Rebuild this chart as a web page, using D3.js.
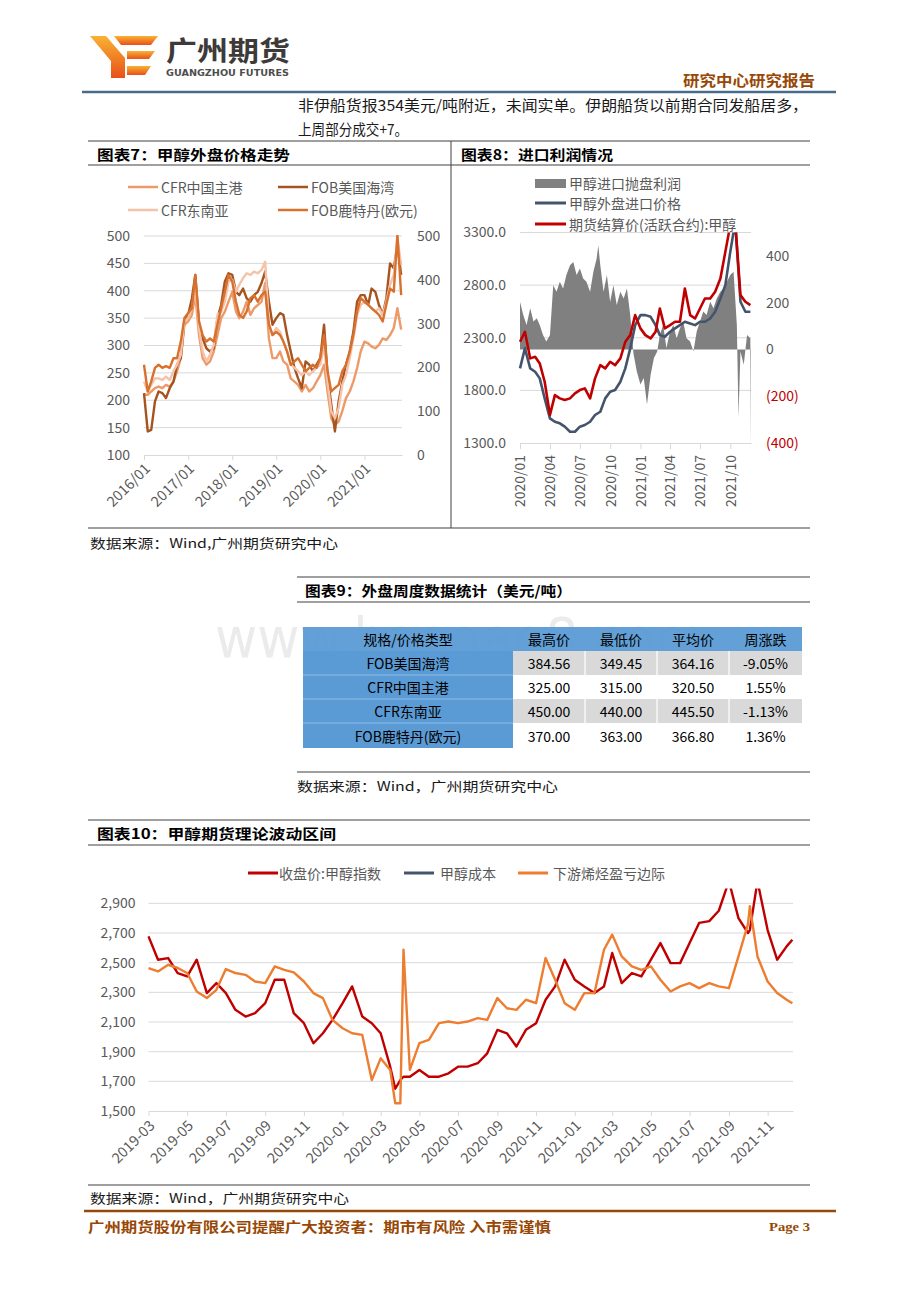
<!DOCTYPE html>
<html><head><meta charset="utf-8">
<script src="https://cdn.jsdelivr.net/npm/d3@7"></script>
<style>html,body{margin:0;padding:0;background:#fff;}svg{display:block;}</style>
</head><body>
<script>
// ---------------- DATA ----------------
// Chart 7
const c7Dates = ["2016-01","2016-02","2016-03","2016-04","2016-05","2016-06","2016-07","2016-08","2016-09","2016-10","2016-11","2016-12",
"2017-01","2017-02","2017-03","2017-04","2017-05","2017-06","2017-07","2017-08","2017-09","2017-10","2017-11","2017-12",
"2018-01","2018-02","2018-03","2018-04","2018-05","2018-06","2018-07","2018-08","2018-09","2018-10","2018-11","2018-12",
"2019-01","2019-02","2019-03","2019-04","2019-05","2019-06","2019-07","2019-08","2019-09","2019-10","2019-11","2019-12",
"2020-01","2020-02","2020-03","2020-04","2020-05","2020-06","2020-07","2020-08","2020-09","2020-10","2020-11","2020-12",
"2021-01","2021-02","2021-03","2021-04","2021-05","2021-06","2021-07","2021-08","2021-09","2021-10","2021-11"];
const c7CfrChina = [210,210,216,222,225,222,228,225,234,253,277,338,
 344,356,392,319,277,265,271,289,319,350,362,380,
 398,362,350,362,380,356,368,374,380,414,313,277,
 277,289,271,265,240,234,228,216,228,216,222,234,
 246,265,216,167,155,161,180,204,216,234,259,289,
 307,304,298,295,301,313,310,319,332,368,329];
const c7FobUS = [213,143,146,198,216,213,204,222,234,265,277,344,
 356,386,429,338,313,295,289,295,350,374,417,432,
 429,398,392,404,386,380,392,398,414,435,380,338,
 350,359,356,319,289,259,240,222,271,265,253,265,
 277,338,246,192,143,198,234,265,289,325,380,392,
 392,374,404,398,374,356,386,450,441,484,429];
const c7CfrSEA = [234,216,228,240,240,237,243,237,253,265,283,344,
 350,368,405,332,289,271,283,301,356,362,380,417,
 420,398,411,423,432,429,435,432,438,453,338,319,
 332,325,307,289,265,259,253,246,253,246,253,259,
 265,301,234,180,167,186,228,246,277,313,356,374,
 380,374,368,362,368,356,380,411,429,496,447];
const c7FobRdmEUR = [206,145,168,199,206,199,203,199,221,221,259,313,
 324,335,411,305,274,259,266,259,298,335,373,411,
 396,350,320,313,328,358,365,350,365,373,298,274,
 281,274,259,236,206,214,221,206,191,199,206,199,
 221,274,191,145,153,160,191,206,236,274,328,358,
 350,343,335,328,320,305,343,380,373,503,365];
const c7LeftTicks = [100,150,200,250,300,350,400,450,500];
const c7RightTicks = [0,100,200,300,400,500];
const c7XTicks = ["2016-01","2017-01","2018-01","2019-01","2020-01","2021-01"];
const c7Names = ["CFR中国主港","FOB美国海湾","CFR东南亚","FOB鹿特丹(欧元)"];

// Chart 8
const c8Dates = ["2020-01-01","2020-01-16","2020-02-01","2020-02-16","2020-03-01","2020-03-16","2020-04-01","2020-04-16","2020-05-01","2020-05-16","2020-06-01","2020-06-16",
"2020-07-01","2020-07-16","2020-08-01","2020-08-16","2020-09-01","2020-09-16","2020-10-01","2020-10-16","2020-11-01","2020-11-16","2020-12-01","2020-12-16",
"2021-01-01","2021-01-16","2021-02-01","2021-02-16","2021-03-01","2021-03-16","2021-04-01","2021-04-16","2021-05-01","2021-05-16","2021-06-01","2021-06-16",
"2021-07-01","2021-07-16","2021-08-01","2021-08-16","2021-09-01","2021-09-16","2021-10-01","2021-10-16","2021-11-01","2021-11-16","2021-12-01"];
const c8Futures = [2262,2357,2104,2119,2056,1882,1566,1755,1724,1708,1724,1771,
 1803,1819,1724,1914,2040,2009,2072,2040,2104,2262,2325,2515,
 2389,2325,2294,2357,2578,2389,2420,2452,2452,2768,2515,2483,
 2578,2673,2673,2737,2863,3116,3370,3400,2705,2642,2610];
const c8ImportPrice = [2009,2199,2009,1977,1914,1724,1534,1502,1487,1455,1407,1407,
 1455,1471,1502,1566,1597,1724,1787,1803,1882,2009,2199,2420,
 2515,2515,2499,2420,2325,2310,2357,2389,2420,2452,2436,2420,
 2452,2452,2483,2547,2673,2800,3116,3400,2642,2547,2547];
const c8ProfitDates = ["2020-01-01","2020-01-11","2020-01-21","2020-02-01","2020-02-11","2020-02-21","2020-03-01","2020-03-11","2020-03-21",
"2020-04-01","2020-04-11","2020-04-21","2020-05-01","2020-05-11","2020-05-21","2020-06-01","2020-06-11","2020-06-21",
"2020-07-01","2020-07-11","2020-07-21","2020-08-01","2020-08-11","2020-08-21","2020-08-26","2020-09-01","2020-09-11","2020-09-21",
"2020-10-01","2020-10-11","2020-10-21","2020-11-01","2020-11-11","2020-11-21","2020-12-01","2020-12-11","2020-12-21",
"2021-01-01","2021-01-11","2021-01-21","2021-02-01","2021-02-11","2021-02-21","2021-03-01","2021-03-11","2021-03-21",
"2021-04-01","2021-04-11","2021-04-21","2021-05-01","2021-05-11","2021-05-21","2021-06-01","2021-06-11","2021-06-21",
"2021-07-01","2021-07-11","2021-07-21","2021-08-01","2021-08-11","2021-08-21","2021-09-01","2021-09-11","2021-09-21",
"2021-10-01","2021-10-11","2021-10-21","2021-10-26","2021-11-01","2021-11-11","2021-11-21","2021-12-01","2021-12-03"];
const c8Profit = [204,147,105,176,119,133,105,62,34,
 62,275,247,289,261,318,360,374,318,
 346,303,289,247,332,389,445,360,247,318,
 204,275,190,247,218,261,147,-20,-94,
 -150,-122,-235,-108,-37,-9,62,105,6,
 77,105,48,91,119,48,34,-9,77,
 119,162,147,204,176,218,247,261,289,
 318,332,105,-292,-9,-65,62,48,-420];
const c8LeftTicks = [1300,1800,2300,2800,3300];
const c8RightTicks = [-400,-200,0,200,400];
const c8XTicks = ["2020-01","2020-04","2020-07","2020-10","2021-01","2021-04","2021-07","2021-10"];
const c8Names = ["甲醇进口抛盘利润","甲醇外盘进口价格","期货结算价(活跃合约):甲醇"];

// Table 9
const t9Header = ["规格/价格类型","最高价","最低价","平均价","周涨跌"];
const t9Names = ["FOB美国海湾","CFR中国主港","CFR东南亚","FOB鹿特丹(欧元)"];
const t9High = ["384.56","325.00","450.00","370.00"];
const t9Low = ["349.45","315.00","440.00","363.00"];
const t9Avg = ["364.16","320.50","445.50","366.80"];
const t9Chg = ["-9.05%","1.55%","-1.13%","1.36%"];

// Chart 10
const c10Dates = ["2019-03-01","2019-03-16","2019-04-01","2019-04-16","2019-05-01","2019-05-16","2019-06-01","2019-06-16","2019-07-01","2019-07-16","2019-08-01","2019-08-16","2019-09-01","2019-09-16","2019-10-01","2019-10-16","2019-11-01","2019-11-16","2019-12-01","2019-12-16",
"2020-01-01","2020-01-16","2020-02-01","2020-02-16","2020-03-01","2020-03-16","2020-03-24","2020-04-01","2020-04-06","2020-04-16","2020-05-01","2020-05-16","2020-06-01","2020-06-16","2020-07-01","2020-07-16","2020-08-01","2020-08-16","2020-09-01","2020-09-16","2020-10-01","2020-10-16","2020-11-01","2020-11-16","2020-12-01","2020-12-16",
"2021-01-01","2021-01-16","2021-02-01","2021-02-16","2021-03-01","2021-03-16","2021-04-01","2021-04-16","2021-05-01","2021-05-16","2021-06-01","2021-06-16","2021-07-01","2021-07-16","2021-08-01","2021-08-16","2021-09-01","2021-09-16","2021-10-01","2021-10-04","2021-10-16","2021-11-01","2021-11-16","2021-12-01","2021-12-10"];
const c10Close = [2677,2520,2531,2430,2407,2520,2295,2362,2295,2182,2137,2160,2227,2385,2385,2160,2092,1957,2024,2114,
 2227,2340,2137,2092,2024,1799,1650,1709,1731,1731,1777,1731,1731,1754,1799,1799,1822,1889,2047,2024,1935,2047,2092,2250,2340,2520,
 2385,2340,2295,2340,2565,2362,2430,2407,2520,2632,2497,2497,2632,2768,2780,2850,3050,2800,2700,2720,3050,2720,2520,2610,2655];
const c10Cost = [];
const c10Olefin = [2464,2441,2486,2464,2430,2306,2261,2317,2457,2430,2418,2373,2362,2475,2452,2434,2373,2295,2261,2114,
 2058,2024,2013,1709,1855,1777,1552,1552,2587,1777,1957,1980,2092,2103,2092,2103,2126,2114,2261,2193,2182,2250,2227,2531,2385,2227,
 2182,2295,2295,2587,2689,2542,2475,2452,2475,2385,2306,2340,2362,2328,2362,2340,2328,2542,2760,2880,2542,2373,2295,2250,2227];
const c10YTicks = [1500,1700,1900,2100,2300,2500,2700,2900];
const c10XTicks = ["2019-03","2019-05","2019-07","2019-09","2019-11","2020-01","2020-03","2020-05","2020-07","2020-09","2020-11","2021-01","2021-03","2021-05","2021-07","2021-09","2021-11"];
const c10Names = ["收盘价:甲醇指数","甲醇成本","下游烯烃盈亏边际"];

// ---------------- DRAW ----------------
const SANS = "'Noto Sans CJK SC','Noto Sans',sans-serif";
const SERIF = "'Liberation Serif','Noto Sans CJK SC',serif";
const GREY = "#595959", GRID = "#d9d9d9";
const pYM = d3.timeParse("%Y-%m"), pYMD = d3.timeParse("%Y-%m-%d");
const svg = d3.select("body").append("svg").attr("width",920).attr("height",1302);
const defs = svg.append("defs");

function txt(g,x,y,s,o={}){
  const t=g.append("text").attr("x",x).attr("y",y).text(s)
    .attr("font-family",o.family||SANS).attr("font-size",o.size||14)
    .attr("fill",o.fill||"#000").attr("font-weight",o.weight||"normal")
    .attr("text-anchor",o.anchor||"start").attr("dominant-baseline","central");
  if(o.len) t.attr("textLength",o.len).attr("lengthAdjust","spacingAndGlyphs");
  return t;
}
function hl(x1,x2,y,c,w){svg.append("line").attr("x1",x1).attr("x2",x2).attr("y1",y).attr("y2",y).attr("stroke",c).attr("stroke-width",w);}
function vl(x,y1,y2,c,w){svg.append("line").attr("x1",x).attr("x2",x).attr("y1",y1).attr("y2",y2).attr("stroke",c).attr("stroke-width",w);}
function clip(id,x,y,w,h){defs.append("clipPath").attr("id",id).append("rect").attr("x",x).attr("y",y).attr("width",w).attr("height",h);}

// header logo
const grad = defs.append("linearGradient").attr("id","lg").attr("x1",0).attr("y1",0).attr("x2",0).attr("y2",1);
grad.append("stop").attr("offset","0").attr("stop-color","#f9b233");
grad.append("stop").attr("offset","1").attr("stop-color","#e8501a");
const logo = svg.append("g").attr("fill","url(#lg)");
[[[90,36],[106,36],[125,58],[125,78],[111,78],[111,61]],
 [[114,36],[158,36],[151,45],[121,45]],
 [[127,51],[155,51],[149,59],[127,59]],
 [[127,66],[151,66],[145,75],[127,75]]].forEach(p=>logo.append("polygon").attr("points",p.map(d=>d.join(",")).join(" ")));
txt(svg,166,49,"广州期货",{size:27,weight:"bold",fill:"#3e3a39",len:124});
txt(svg,166,72,"GUANGZHOU FUTURES",{size:9.5,weight:"bold",fill:"#4d4d4d",len:123,family:"'DejaVu Sans',sans-serif"});
txt(svg,683,79,"研究中心研究报告",{size:15,weight:"bold",fill:"#984806",len:132});
hl(82,836,92,"#4a6a8a",2.5);
txt(svg,298,104,"非伊船货报354美元/吨附近，未闻实单。伊朗船货以前期合同发船居多，",{size:15,fill:"#1a1a1a",len:510});
txt(svg,298,128,"上周部分成交+7。",{size:15,fill:"#1a1a1a",len:110});

// frames for charts 7/8
hl(88,810,141,"#404040",1.2); hl(88,810,165,"#404040",1); hl(88,810,528,"#404040",1.2); vl(451,141,528,"#404040",1);
txt(svg,97,154,"图表7：甲醇外盘价格走势",{size:14,weight:"bold",len:193});
txt(svg,461,154,"图表8：进口利润情况",{size:14,weight:"bold",len:152});
txt(svg,90,542,"数据来源：Wind,广州期货研究中心",{size:13,fill:"#1a1a1a",len:248});

// ---------- Chart 7 ----------
(function(){
  const g = svg.append("g");
  const x = d3.scaleTime([new Date(2016,0,1), new Date(2021,10,8)],[144,402]);
  const yL = d3.scaleLinear([100,500],[455,236]);
  const yR = d3.scaleLinear([0,500],[455,236]);
  g.selectAll("line.grid").data(c7LeftTicks.slice(1)).join("line")
    .attr("x1",144).attr("x2",402).attr("y1",d=>yL(d)).attr("y2",d=>yL(d)).attr("stroke",GRID).attr("stroke-width",1);
  const aL = g.append("g").attr("transform","translate(144,0)").call(d3.axisLeft(yL).tickValues(c7LeftTicks).tickSize(0).tickPadding(14));
  aL.select(".domain").remove();
  aL.selectAll("text").attr("font-family",SANS).attr("font-size",14).attr("fill",GREY);
  const aR = g.append("g").attr("transform","translate(402,0)").call(d3.axisRight(yR).tickValues(c7RightTicks).tickSize(0).tickPadding(15));
  aR.select(".domain").remove();
  aR.selectAll("text").attr("font-family",SANS).attr("font-size",14).attr("fill",GREY);
  const aB = g.append("g").attr("transform","translate(0,455)")
    .call(d3.axisBottom(x).tickValues(c7XTicks.map(pYM)).tickFormat(d3.timeFormat("%Y/%m")).tickSize(5).tickSizeOuter(0));
  aB.select(".domain").attr("stroke",GRID);
  aB.selectAll(".tick line").attr("stroke",GRID);
  aB.selectAll(".tick text").attr("x",0).attr("y",0).attr("dy","0.35em").attr("transform","translate(3,11) rotate(-45)")
    .attr("text-anchor","end").attr("font-family",SANS).attr("font-size",14.5).attr("fill",GREY);
  clip("c7",140,235,266,222);
  const dates = c7Dates.map(pYM);
  const series = [
    {v:c7CfrChina, y:yL, c:"#ee9a68"},
    {v:c7FobUS, y:yL, c:"#a5541f"},
    {v:c7CfrSEA, y:yL, c:"#f5c2aa"},
    {v:c7FobRdmEUR, y:yR, c:"#d8712e"}];
  const pg = g.append("g").attr("clip-path","url(#c7)");
  series.forEach(s=>{
    const ln = d3.line().x((d,i)=>x(dates[i])).y(d=>s.y(d));
    pg.append("path").attr("d",ln(s.v)).attr("fill","none").attr("stroke",s.c).attr("stroke-width",2.4).attr("stroke-linejoin","round");
  });
  const lg = [[128,187],[278,187],[128,210],[278,210]];
  series.forEach((s,i)=>{
    g.append("line").attr("x1",lg[i][0]).attr("x2",lg[i][0]+30).attr("y1",lg[i][1]).attr("y2",lg[i][1]).attr("stroke",s.c).attr("stroke-width",2.5);
    txt(g,lg[i][0]+33,lg[i][1],c7Names[i],{size:14,fill:GREY});
  });
})();

// ---------- Chart 8 ----------
(function(){
  const g = svg.append("g");
  const x = d3.scaleTime([new Date(2020,0,1), new Date(2021,11,3)],[520,751]);
  const yL = d3.scaleLinear([1300,3300],[443,232.5]);
  const yR = d3.scaleLinear([-400,500],[443,232.5]);
  g.selectAll("line.grid").data(c8LeftTicks.slice(1)).join("line")
    .attr("x1",520).attr("x2",751).attr("y1",d=>yL(d)).attr("y2",d=>yL(d)).attr("stroke",GRID).attr("stroke-width",1);
  const aL = g.append("g").attr("transform","translate(520,0)").call(d3.axisLeft(yL).tickValues(c8LeftTicks).tickFormat(d3.format(".1f")).tickSize(0).tickPadding(14));
  aL.select(".domain").remove();
  aL.selectAll("text").attr("font-family",SANS).attr("font-size",14).attr("fill",GREY);
  const aR = g.append("g").attr("transform","translate(751,0)")
    .call(d3.axisRight(yR).tickValues(c8RightTicks).tickFormat(d=>d<0?"("+Math.abs(d)+")":String(d)).tickSize(0).tickPadding(15));
  aR.select(".domain").remove();
  aR.selectAll("text").attr("font-family",SANS).attr("font-size",14).attr("fill",d=>d<0?"#c00000":GREY);
  const aB = g.append("g").attr("transform","translate(0,443)")
    .call(d3.axisBottom(x).tickValues(c8XTicks.map(pYM)).tickFormat(d3.timeFormat("%Y/%m")).tickSize(6).tickSizeOuter(0));
  aB.select(".domain").attr("stroke",GRID);
  aB.selectAll(".tick line").attr("stroke",GRID);
  aB.selectAll(".tick text").attr("x",0).attr("y",0).attr("dy","0.35em").attr("transform","translate(0,12) rotate(-90)")
    .attr("text-anchor","end").attr("font-family",SANS).attr("font-size",14).attr("fill",GREY);
  clip("c8",518,232.5,236,211);
  const pg = g.append("g").attr("clip-path","url(#c8)");
  const pd = c8ProfitDates.map(pYMD);
  const ar = d3.area().x((d,i)=>x(pd[i])).y0(yR(0)).y1(d=>yR(d));
  pg.append("path").attr("d",ar(c8Profit)).attr("fill","#808080");
  const dd = c8Dates.map(pYMD);
  const ln = d3.line().x((d,i)=>x(dd[i])).y(d=>yL(d));
  pg.append("path").attr("d",ln(c8ImportPrice)).attr("fill","none").attr("stroke","#44546a").attr("stroke-width",2.6).attr("stroke-linejoin","round");
  pg.append("path").attr("d",ln(c8Futures)).attr("fill","none").attr("stroke","#c00000").attr("stroke-width",2.6).attr("stroke-linejoin","round");
  g.append("rect").attr("x",535).attr("y",179).attr("width",31).attr("height",9).attr("fill","#808080");
  g.append("line").attr("x1",535).attr("x2",566).attr("y1",203).attr("y2",203).attr("stroke","#44546a").attr("stroke-width",3);
  g.append("line").attr("x1",535).attr("x2",566).attr("y1",224).attr("y2",224).attr("stroke","#c00000").attr("stroke-width",3);
  txt(g,569,183,c8Names[0],{size:14,fill:GREY});
  txt(g,569,203,c8Names[1],{size:14,fill:GREY});
  txt(g,569,224,c8Names[2],{size:14,fill:GREY});
})();

// ---------- Table 9 ----------
(function(){
  hl(297,810,577,"#404040",1.2); hl(297,810,602,"#404040",1); hl(297,810,772,"#404040",1.2);
  txt(svg,305,590,"图表9：外盘周度数据统计（美元/吨）",{size:14,weight:"bold",len:267});
  txt(svg,297,785,"数据来源：Wind，广州期货研究中心",{size:13,fill:"#1a1a1a",len:261});
  // watermark sits behind the table
  txt(svg,215,637,"www.baogao8.com",{size:56,fill:"#d8d8d8",len:490,family:"'DejaVu Sans',sans-serif"}).attr("opacity",0.5);
  const g = svg.append("g");
  const colX = [303,513,585,657,729,802];
  const rowY = [627,651,675,699,723,748];
  const BLUE = "#5b9bd5";
  g.append("rect").attr("x",303).attr("y",627).attr("width",499).attr("height",24).attr("fill",BLUE).attr("opacity",0.95);
  g.append("rect").attr("x",303).attr("y",651).attr("width",210).attr("height",97).attr("fill",BLUE);
  [0,2].forEach(r=>g.append("rect").attr("x",513).attr("y",rowY[r+1]).attr("width",289).attr("height",24).attr("fill","#d9d9d9"));
  [2,3,4].forEach(c=>g.append("line").attr("x1",colX[c]).attr("x2",colX[c]).attr("y1",651).attr("y2",748).attr("stroke","#fff").attr("stroke-width",1.2));
  [2,3,4].forEach(r=>g.append("line").attr("x1",303).attr("x2",513).attr("y1",rowY[r]).attr("y2",rowY[r]).attr("stroke","#8fbce6").attr("stroke-width",1));
  const cx = c=>(colX[c]+colX[c+1])/2;
  t9Header.forEach((h,c)=>txt(g,cx(c),639,h,{size:14,anchor:"middle"}));
  t9Names.forEach((n,r)=>{
    const y=(rowY[r+1]+rowY[r+2])/2;
    txt(g,cx(0),y,n,{size:14,anchor:"middle"});
    txt(g,cx(1),y,t9High[r],{size:14,anchor:"middle"});
    txt(g,cx(2),y,t9Low[r],{size:14,anchor:"middle"});
    txt(g,cx(3),y,t9Avg[r],{size:14,anchor:"middle"});
    txt(g,cx(4),y,t9Chg[r],{size:14,anchor:"middle"});
  });
})();

// ---------- Chart 10 ----------
(function(){
  hl(88,810,820,"#404040",1.2); hl(88,810,845,"#404040",1); hl(88,810,1185,"#404040",1.2);
  txt(svg,97,833,"图表10：甲醇期货理论波动区间",{size:14,weight:"bold",len:239});
  txt(svg,90,1197,"数据来源：Wind，广州期货研究中心",{size:13,fill:"#1a1a1a",len:259});
  const g = svg.append("g");
  const x = d3.scaleTime([new Date(2019,2,1), new Date(2021,11,11)],[148.5,793]);
  const y = d3.scaleLinear([1500,3000],[1111,888.5]);
  g.selectAll("line.grid").data(c10YTicks.slice(1)).join("line")
    .attr("x1",148.5).attr("x2",793).attr("y1",d=>y(d)).attr("y2",d=>y(d)).attr("stroke",GRID).attr("stroke-width",1);
  const aL = g.append("g").attr("transform","translate(148.5,0)").call(d3.axisLeft(y).tickValues(c10YTicks).tickFormat(d3.format(",")).tickSize(0).tickPadding(13));
  aL.select(".domain").remove();
  aL.selectAll("text").attr("font-family",SANS).attr("font-size",14).attr("fill",GREY);
  const aB = g.append("g").attr("transform","translate(0,1111)")
    .call(d3.axisBottom(x).tickValues(c10XTicks.map(pYM)).tickFormat(d3.timeFormat("%Y-%m")).tickSize(5).tickSizeOuter(0));
  aB.select(".domain").attr("stroke",GRID);
  aB.selectAll(".tick line").attr("stroke",GRID);
  aB.selectAll(".tick text").attr("x",0).attr("y",0).attr("dy","0.35em").attr("transform","translate(3,12) rotate(-45)")
    .attr("text-anchor","end").attr("font-family",SANS).attr("font-size",14.5).attr("fill",GREY);
  clip("c10",146,888.5,650,224);
  const pg = g.append("g").attr("clip-path","url(#c10)");
  const dd = c10Dates.map(pYMD);
  const ln = d3.line().x((d,i)=>x(dd[i])).y(d=>y(d));
  const ser = [{v:c10Close,c:"#c00000"},{v:c10Cost,c:"#44546a"},{v:c10Olefin,c:"#ed7d31"}];
  ser.forEach(s=>{ if(s.v.length) pg.append("path").attr("d",ln(s.v)).attr("fill","none").attr("stroke",s.c).attr("stroke-width",2.4).attr("stroke-linejoin","round"); });
  const lx = [[248,279],[404,440],[518,553]];
  ser.forEach((s,i)=>{
    g.append("line").attr("x1",lx[i][0]).attr("x2",lx[i][0]+30).attr("y1",873).attr("y2",873).attr("stroke",s.c).attr("stroke-width",3);
    txt(g,lx[i][1],873,c10Names[i],{size:14,fill:GREY});
  });
})();

// footer
hl(84,836,1211,"#984806",2.5);
txt(svg,88,1226,"广州期货股份有限公司提醒广大投资者：期市有风险 入市需谨慎",{size:14,weight:"bold",fill:"#984806",len:463});
txt(svg,769,1226,"Page 3",{size:13,weight:"bold",fill:"#984806",len:41,family:SERIF});
</script>
</body></html>
